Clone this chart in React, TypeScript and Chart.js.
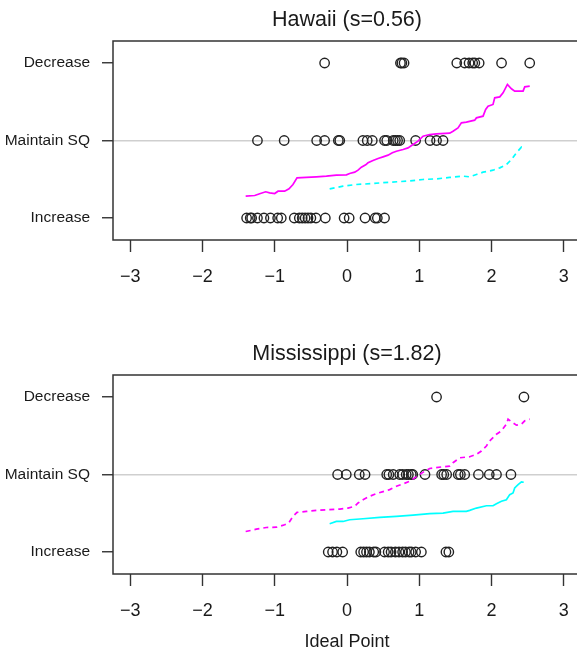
import React, { useEffect, useRef } from "react";
import { Chart, registerables } from "chart.js";
Chart.register(...registerables);

const FONT = "'Liberation Sans', Arial, Helvetica, sans-serif";

const categoryValues = [1, 2, 3];
const categoryLabels = ["Increase", "Maintain SQ", "Decrease"];
const xTickValues = [-3, -2, -1, 0, 1, 2, 3];
const xTickLabels = ["−3", "−2", "−1", "0", "1", "2", "3"];
const xAxisTitle = "Ideal Point";

// Hawaii panel
const hawaiiTitle = "Hawaii (s=0.56)";
const hawaiiDecrease = [-0.31, 0.74, 0.76, 0.79, 1.52, 1.63, 1.69, 1.74, 1.77, 1.83, 2.14, 2.53];
const hawaiiMaintain = [-1.24, -0.87, -0.42, -0.31, -0.12, -0.1, 0.22, 0.28, 0.35, 0.52, 0.55, 0.64, 0.67, 0.7, 0.73, 0.95, 1.15, 1.24, 1.33];
const hawaiiIncrease = [-1.39, -1.34, -1.32, -1.24, -1.15, -1.06, -0.96, -0.91, -0.73, -0.66, -0.62, -0.58, -0.54, -0.5, -0.43, -0.3, -0.04, 0.03, 0.25, 0.39, 0.42, 0.52];
const hawaiiMagentaX = [-1.403, -1.278, -1.209, -1.126, -1.071, -1.001, -0.955, -0.863, -0.803, -0.748, -0.692, -0.563, -0.424, -0.285, -0.147, -0.008, 0.037, 0.107, 0.153, 0.199, 0.259, 0.291, 0.36, 0.43, 0.499, 0.568, 0.628, 0.684, 0.776, 0.845, 0.914, 0.983, 1.053, 1.145, 1.238, 1.422, 1.468, 1.537, 1.584, 1.653, 1.768, 1.792, 1.884, 1.92, 1.953, 2.022, 2.045, 2.115, 2.161, 2.221, 2.277, 2.322, 2.392, 2.438, 2.461, 2.53];
const hawaiiMagentaY = [1.282, 1.29, 1.312, 1.338, 1.325, 1.316, 1.346, 1.346, 1.376, 1.432, 1.518, 1.523, 1.531, 1.54, 1.553, 1.557, 1.574, 1.591, 1.617, 1.656, 1.686, 1.712, 1.742, 1.768, 1.789, 1.811, 1.841, 1.862, 1.884, 1.905, 1.948, 1.991, 2.056, 2.077, 2.086, 2.095, 2.12, 2.163, 2.228, 2.237, 2.262, 2.292, 2.314, 2.4, 2.443, 2.465, 2.551, 2.563, 2.615, 2.723, 2.667, 2.637, 2.637, 2.637, 2.692, 2.701];
const hawaiiCyanX = [-0.24, -0.055, 0.129, 0.36, 0.591, 0.822, 1.053, 1.238, 1.422, 1.607, 1.699, 1.792, 1.884, 2.022, 2.115, 2.207, 2.277, 2.346, 2.415, 2.461];
const hawaiiCyanY = [1.376, 1.411, 1.432, 1.445, 1.462, 1.475, 1.497, 1.505, 1.523, 1.54, 1.531, 1.561, 1.591, 1.617, 1.647, 1.69, 1.755, 1.841, 1.914, 1.892];

// Mississippi panel
const mississippiTitle = "Mississippi (s=1.82)";
const mississippiDecrease = [1.24, 2.45];
const mississippiMaintain = [-0.13, -0.01, 0.17, 0.25, 0.55, 0.58, 0.64, 0.73, 0.77, 0.82, 0.85, 0.89, 0.91, 1.08, 1.31, 1.34, 1.38, 1.54, 1.57, 1.63, 1.82, 1.97, 2.07, 2.27];
const mississippiIncrease = [-0.26, -0.2, -0.14, -0.06, 0.19, 0.23, 0.27, 0.31, 0.37, 0.4, 0.52, 0.57, 0.61, 0.67, 0.72, 0.77, 0.81, 0.86, 0.89, 0.95, 1.03, 1.37, 1.41];
const mississippiMagentaX = [-1.403, -1.255, -1.117, -0.978, -0.863, -0.803, -0.748, -0.692, -0.563, -0.424, -0.285, -0.101, 0.014, 0.107, 0.153, 0.222, 0.314, 0.407, 0.499, 0.591, 0.684, 0.776, 0.868, 0.937, 1.007, 1.076, 1.145, 1.33, 1.422, 1.468, 1.561, 1.699, 1.792, 1.861, 1.93, 1.976, 2.069, 2.138, 2.207, 2.23, 2.291, 2.346, 2.415, 2.461, 2.53];
const mississippiMagentaY = [1.264, 1.294, 1.316, 1.32, 1.351, 1.381, 1.459, 1.511, 1.524, 1.537, 1.545, 1.554, 1.567, 1.589, 1.632, 1.675, 1.719, 1.753, 1.779, 1.805, 1.848, 1.879, 1.913, 1.957, 2.0, 2.043, 2.078, 2.1, 2.108, 2.152, 2.216, 2.229, 2.26, 2.303, 2.368, 2.433, 2.519, 2.563, 2.649, 2.714, 2.671, 2.636, 2.649, 2.693, 2.714];
const mississippiCyanX = [-0.24, -0.147, -0.055, 0.037, 0.222, 0.453, 0.684, 0.914, 1.145, 1.33, 1.468, 1.653, 1.699, 1.792, 1.93, 2.022, 2.069, 2.138, 2.207, 2.253, 2.299, 2.322, 2.369, 2.415, 2.447];
const mississippiCyanY = [1.364, 1.394, 1.394, 1.416, 1.429, 1.446, 1.459, 1.476, 1.494, 1.502, 1.524, 1.524, 1.537, 1.567, 1.597, 1.597, 1.623, 1.654, 1.675, 1.74, 1.762, 1.827, 1.87, 1.905, 1.9];

const boxPlugin = {
  id: "rbox",
  beforeDatasetsDraw(chart: any) {
    const { ctx, chartArea } = chart;
    ctx.save();
    ctx.strokeStyle = "#333";
    ctx.lineWidth = 1.5;
    ctx.strokeRect(chartArea.left, chartArea.top, chartArea.right - chartArea.left, chartArea.bottom - chartArea.top);
    ctx.restore();
  },
};

type PanelProps = {
  top: number;
  height: number;
  axisHeight: number;
  title: string;
  decrease: number[];
  maintain: number[];
  increase: number[];
  magentaX: number[];
  magentaY: number[];
  cyanX: number[];
  cyanY: number[];
  magentaDashed: boolean;
  cyanDashed: boolean;
  showXTitle: boolean;
};

function Panel(p: PanelProps) {
  const ref = useRef<HTMLCanvasElement>(null);
  useEffect(() => {
    const canvas = ref.current!;
    const row = (xs: number[], y: number) => xs.map((x) => ({ x, y }));
    const line = (xs: number[], ys: number[]) => xs.map((x, i) => ({ x, y: ys[i] }));
    const circles = {
      showLine: false,
      pointStyle: "circle",
      pointRadius: 4.7,
      pointBorderWidth: 1.4,
      pointBorderColor: "#222",
      pointBackgroundColor: "rgba(0,0,0,0)",
      pointHoverRadius: 4.7,
    };
    const chart = new Chart(canvas, {
      type: "scatter",
      data: {
        datasets: [
          {
            data: line(p.magentaX, p.magentaY),
            showLine: true,
            borderColor: "#ff00ff",
            borderWidth: 1.7,
            borderDash: p.magentaDashed ? [5, 4] : [],
            pointRadius: 0,
            tension: 0,
          },
          {
            data: line(p.cyanX, p.cyanY),
            showLine: true,
            borderColor: "#00ffff",
            borderWidth: 1.7,
            borderDash: p.cyanDashed ? [5, 4] : [],
            pointRadius: 0,
            tension: 0,
          },
          { data: row(p.increase, categoryValues[0]), ...circles },
          { data: row(p.maintain, categoryValues[1]), ...circles },
          { data: row(p.decrease, categoryValues[2]), ...circles },
        ] as any,
      },
      options: {
        responsive: false,
        animation: false,
        devicePixelRatio: 1,
        events: [],
        layout: { padding: { left: 0, right: 113, top: 0, bottom: 0 } },
        plugins: {
          legend: { display: false },
          tooltip: { enabled: false },
          title: {
            display: true,
            fullSize: false,
            text: p.title,
            color: "#1a1a1a",
            font: { family: FONT, size: 21.5, weight: "normal", lineHeight: 1.2 },
            padding: { top: 7.5, bottom: 7.7 },
          },
        },
        scales: {
          x: {
            type: "linear",
            min: -3.24,
            max: 3.24,
            afterBuildTicks: (s: any) => {
              s.ticks = xTickValues.map((v) => ({ value: v }));
            },
            afterFit: (s: any) => {
              s.height = p.axisHeight;
            },
            border: { display: false },
            grid: { drawOnChartArea: false, drawTicks: true, tickLength: 12, tickColor: "#333", tickWidth: 1.4 },
            ticks: {
              callback: (_v: any, i: number) => xTickLabels[i],
              font: { family: FONT, size: 18 },
              color: "#1a1a1a",
              padding: 14,
              maxRotation: 0,
              autoSkip: false,
            },
            title: {
              display: p.showXTitle,
              text: xAxisTitle,
              color: "#1a1a1a",
              font: { family: FONT, size: 18 },
              padding: { top: 0, bottom: 0.5 },
            },
          },
          y: {
            type: "linear",
            min: 0.716,
            max: 3.284,
            afterBuildTicks: (s: any) => {
              s.ticks = categoryValues.map((v) => ({ value: v }));
            },
            afterFit: (s: any) => {
              s.width = 113;
            },
            border: { display: false },
            grid: {
              drawOnChartArea: true,
              drawTicks: true,
              tickLength: 11,
              tickColor: "#333",
              tickWidth: 1.4,
              lineWidth: 1.5,
              color: (ctx: any) => (ctx.tick && ctx.tick.value === 2 ? "#cfcfcf" : "rgba(0,0,0,0)"),
            },
            ticks: {
              callback: (_v: any, i: number) => categoryLabels[i],
              font: { family: FONT, size: 15.5 },
              color: "#1a1a1a",
              padding: 12,
              autoSkip: false,
            },
          },
        },
      } as any,
      plugins: [boxPlugin],
    });
    return () => chart.destroy();
  }, []);
  return (
    <canvas
      ref={ref}
      width={694}
      height={p.height}
      style={{ position: "absolute", left: 0, top: p.top, width: 694, height: p.height, display: "block" }}
    />
  );
}

export default function App() {
  return (
    <div style={{ position: "absolute", left: 0, top: 0, width: 577, height: 653, overflow: "hidden", background: "#fff" }}>
      <Panel
        top={0}
        height={334}
        axisHeight={94}
        title={hawaiiTitle}
        decrease={hawaiiDecrease}
        maintain={hawaiiMaintain}
        increase={hawaiiIncrease}
        magentaX={hawaiiMagentaX}
        magentaY={hawaiiMagentaY}
        cyanX={hawaiiCyanX}
        cyanY={hawaiiCyanY}
        magentaDashed={false}
        cyanDashed={true}
        showXTitle={false}
      />
      <Panel
        top={334}
        height={319}
        axisHeight={79}
        title={mississippiTitle}
        decrease={mississippiDecrease}
        maintain={mississippiMaintain}
        increase={mississippiIncrease}
        magentaX={mississippiMagentaX}
        magentaY={mississippiMagentaY}
        cyanX={mississippiCyanX}
        cyanY={mississippiCyanY}
        magentaDashed={true}
        cyanDashed={false}
        showXTitle={true}
      />
    </div>
  );
}
